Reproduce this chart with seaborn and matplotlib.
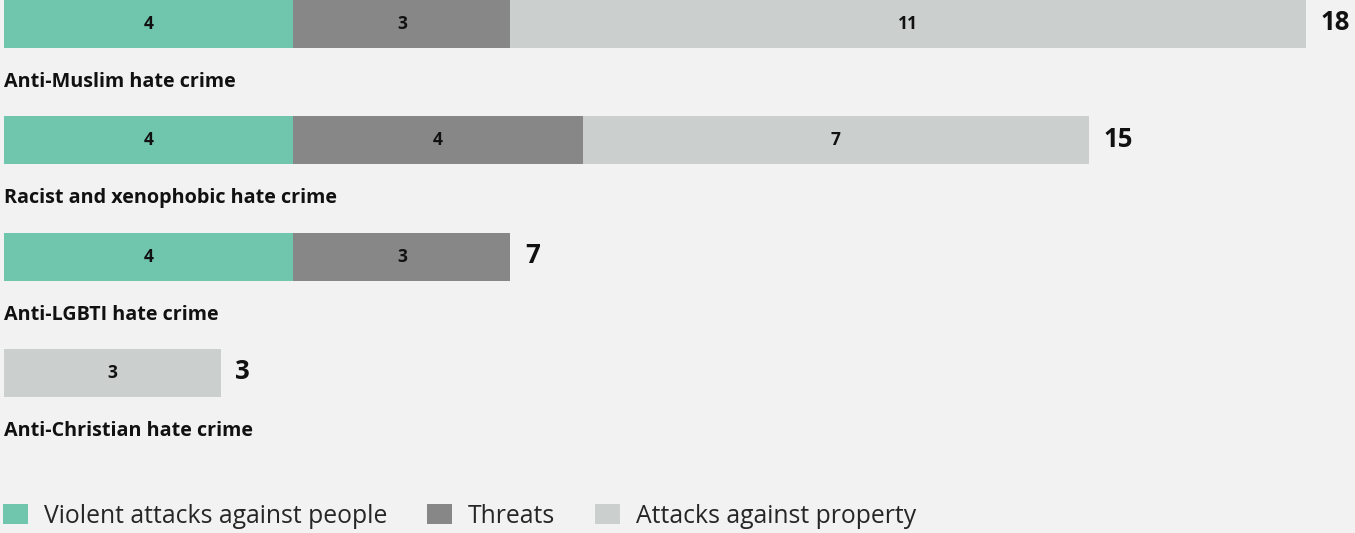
import numpy as np
import pandas as pd
import matplotlib.pyplot as plt
import seaborn as sns
from matplotlib.patches import Patch

categories = [
    "Anti-Muslim hate crime",
    "Racist and xenophobic hate crime",
    "Anti-LGBTI hate crime",
    "Anti-Christian hate crime",
]
violent = [4, 4, 4, 0]
threats = [3, 4, 3, 0]
property_attacks = [11, 7, 0, 3]
series_names = ["Violent attacks against people", "Threats", "Attacks against property"]
colors = ["#70c6ad", "#878787", "#cbcfce"]
bg = "#f2f2f2"

df = pd.DataFrame({
    "category": categories,
    "violent": violent,
    "threats": threats,
    "property": property_attacks,
})
df["vt"] = df["violent"] + df["threats"]
df["total"] = df["vt"] + df["property"]

sns.set_style("white")
plt.rcParams["font.family"] = ["Open Sans", "DejaVu Sans"]

fig = plt.figure(figsize=(13.55, 5.33), dpi=100, facecolor=bg)
ax = fig.add_axes([0, 0, 1, 1])
ax.set_facecolor(bg)

# stacked bars by overlaying cumulative totals
for col, c in zip(["total", "vt", "violent"], colors[::-1]):
    sns.barplot(data=df, y="category", x=col, color=c, saturation=1,
                width=0.413, orient="h", linewidth=0, ax=ax)

px = 72.33
ax.set_xlim(-4 / px, 1351 / px)
ax.set_ylim(4.377, -0.206)
ax.axis("off")

for i, row in df.iterrows():
    left = 0
    for val in [row["violent"], row["threats"], row["property"]]:
        if val > 0:
            ax.text(left + val / 2, i, str(val), ha="center", va="center",
                    fontsize=12.5, fontweight="bold", color="#111111")
        left += val
    ax.text(row["total"] + 0.2, i - 0.01, str(row["total"]), ha="left", va="center",
            fontsize=18.5, fontweight="bold", color="#111111")
    ax.text(0, i + 0.5, row["category"], ha="left", va="center",
            fontsize=14.2, fontweight="bold", color="#111111")

handles = [Patch(facecolor=c, edgecolor="none") for c in colors]
fig.legend(handles, series_names, loc="lower left", bbox_to_anchor=(-0.003, -0.006),
           ncol=3, frameon=False, fontsize=17.8, handlelength=1.0, handleheight=0.85,
           handletextpad=0.64, columnspacing=1.62, borderaxespad=0.1, borderpad=0.2)

fig.savefig("out.png", dpi=100, facecolor=bg)
